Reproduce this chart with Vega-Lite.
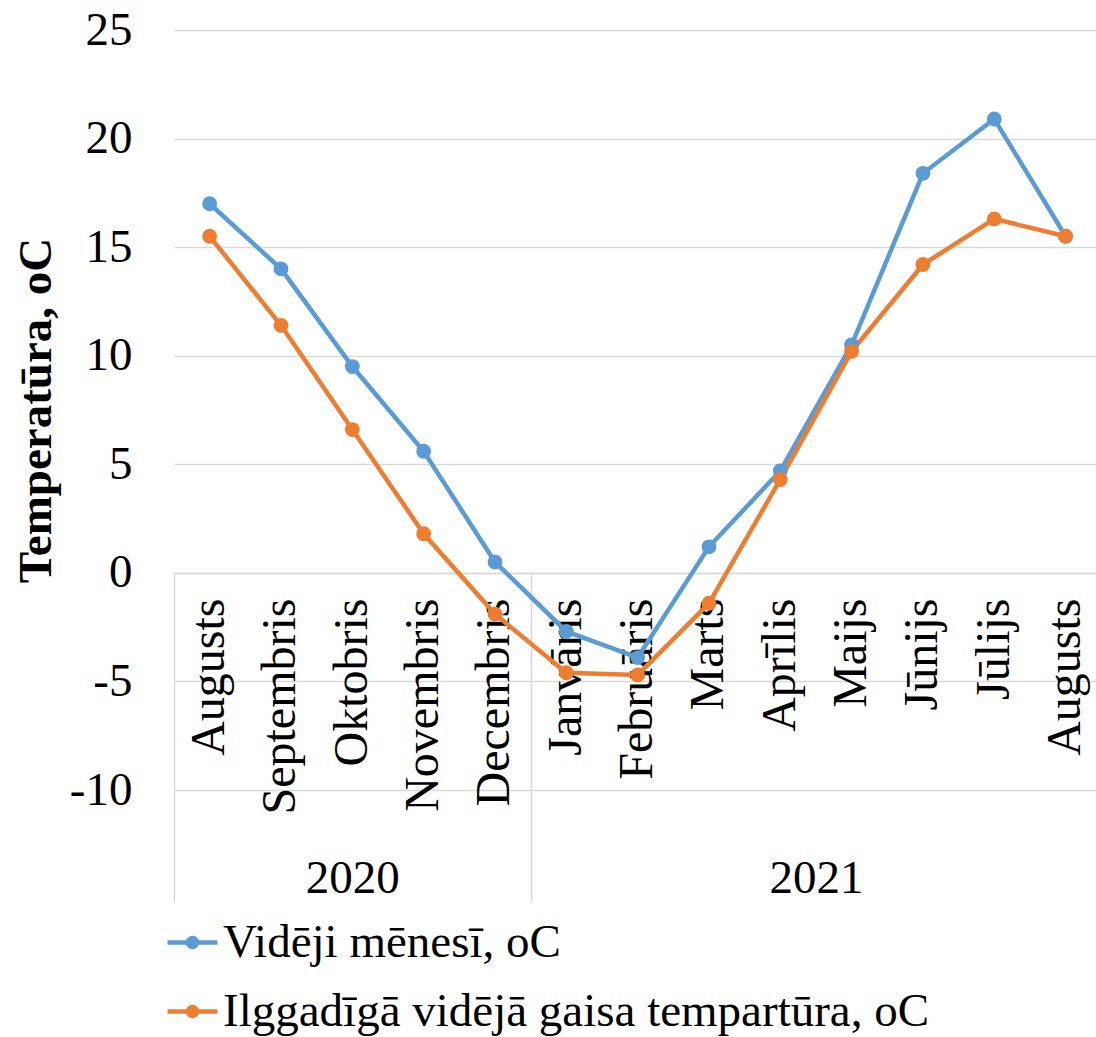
{
  "$schema": "https://vega.github.io/schema/vega-lite/v6.json",
  "autosize": "none",
  "width": 922,
  "height": 760,
  "padding": {"left": 174, "top": 30, "right": 0, "bottom": 247},
  "background": "white",
  "config": {
    "view": {"stroke": null},
    "font": "Liberation Serif",
    "axis": {"labelFont": "Liberation Serif", "titleFont": "Liberation Serif", "labelColor": "black", "titleColor": "black"}
  },
  "data": {
    "values": [
      {"i": 0, "month": "Augusts", "year": 2020, "series": "Vidēji mēnesī, oC", "t": 17.0},
      {"i": 1, "month": "Septembris", "year": 2020, "series": "Vidēji mēnesī, oC", "t": 14.0},
      {"i": 2, "month": "Oktobris", "year": 2020, "series": "Vidēji mēnesī, oC", "t": 9.5},
      {"i": 3, "month": "Novembris", "year": 2020, "series": "Vidēji mēnesī, oC", "t": 5.6},
      {"i": 4, "month": "Decembris", "year": 2020, "series": "Vidēji mēnesī, oC", "t": 0.5},
      {"i": 5, "month": "Janvāris", "year": 2021, "series": "Vidēji mēnesī, oC", "t": -2.7},
      {"i": 6, "month": "Februāris", "year": 2021, "series": "Vidēji mēnesī, oC", "t": -3.9},
      {"i": 7, "month": "Marts", "year": 2021, "series": "Vidēji mēnesī, oC", "t": 1.2},
      {"i": 8, "month": "Aprīlis", "year": 2021, "series": "Vidēji mēnesī, oC", "t": 4.7},
      {"i": 9, "month": "Maijs", "year": 2021, "series": "Vidēji mēnesī, oC", "t": 10.5},
      {"i": 10, "month": "Jūnijs", "year": 2021, "series": "Vidēji mēnesī, oC", "t": 18.4},
      {"i": 11, "month": "Jūlijs", "year": 2021, "series": "Vidēji mēnesī, oC", "t": 20.9},
      {"i": 12, "month": "Augusts", "year": 2021, "series": "Vidēji mēnesī, oC", "t": 15.5},
      {"i": 0, "month": "Augusts", "year": 2020, "series": "Ilggadīgā vidējā gaisa tempartūra, oC", "t": 15.5},
      {"i": 1, "month": "Septembris", "year": 2020, "series": "Ilggadīgā vidējā gaisa tempartūra, oC", "t": 11.4},
      {"i": 2, "month": "Oktobris", "year": 2020, "series": "Ilggadīgā vidējā gaisa tempartūra, oC", "t": 6.6},
      {"i": 3, "month": "Novembris", "year": 2020, "series": "Ilggadīgā vidējā gaisa tempartūra, oC", "t": 1.8},
      {"i": 4, "month": "Decembris", "year": 2020, "series": "Ilggadīgā vidējā gaisa tempartūra, oC", "t": -1.9},
      {"i": 5, "month": "Janvāris", "year": 2021, "series": "Ilggadīgā vidējā gaisa tempartūra, oC", "t": -4.6},
      {"i": 6, "month": "Februāris", "year": 2021, "series": "Ilggadīgā vidējā gaisa tempartūra, oC", "t": -4.7},
      {"i": 7, "month": "Marts", "year": 2021, "series": "Ilggadīgā vidējā gaisa tempartūra, oC", "t": -1.4},
      {"i": 8, "month": "Aprīlis", "year": 2021, "series": "Ilggadīgā vidējā gaisa tempartūra, oC", "t": 4.3},
      {"i": 9, "month": "Maijs", "year": 2021, "series": "Ilggadīgā vidējā gaisa tempartūra, oC", "t": 10.2},
      {"i": 10, "month": "Jūnijs", "year": 2021, "series": "Ilggadīgā vidējā gaisa tempartūra, oC", "t": 14.2},
      {"i": 11, "month": "Jūlijs", "year": 2021, "series": "Ilggadīgā vidējā gaisa tempartūra, oC", "t": 16.3},
      {"i": 12, "month": "Augusts", "year": 2021, "series": "Ilggadīgā vidējā gaisa tempartūra, oC", "t": 15.5}
    ]
  },
  "encoding": {
    "y": {
      "field": "t",
      "type": "quantitative",
      "scale": {"domain": [-10, 25], "nice": false, "zero": false},
      "axis": {
        "values": [-10, -5, 0, 5, 10, 15, 20, 25],
        "labelExpr": "toString(datum.value)",
        "title": "Temperatūra, oC",
        "titleFontSize": 47,
        "titleFontWeight": "bold",
        "titlePadding": 9,
        "labelFontSize": 47,
        "labelPadding": 42,
        "ticks": false,
        "domain": false,
        "grid": true,
        "gridColor": "#d9d9d9",
        "gridWidth": 1.5
      }
    },
    "color": {
      "field": "series",
      "type": "nominal",
      "sort": ["Vidēji mēnesī, oC", "Ilggadīgā vidējā gaisa tempartūra, oC"],
      "scale": {"domain": ["Vidēji mēnesī, oC", "Ilggadīgā vidējā gaisa tempartūra, oC"], "range": ["#5b9bd5", "#ed7d31"]},
      "legend": {
        "title": null,
        "orient": "none",
        "legendX": -9,
        "legendY": 885,
        "direction": "vertical",
        "padding": 0,
        "labelFont": "Liberation Serif",
        "labelFontSize": 47,
        "labelColor": "black",
        "labelOffset": 3,
        "labelLimit": 1000,
        "rowPadding": 18,
        "symbolType": "M-1,0H1M-0.18,0A0.18,0.18 0 1,1 0.18,0A0.18,0.18 0 1,1 -0.18,0Z",
        "symbolSize": 2500,
        "symbolStrokeWidth": 4.5,
        "encode": {"symbols": {"update": {"fill": {"scale": "color", "field": "value"}, "stroke": {"scale": "color", "field": "value"}}}}
      }
    }
  },
  "resolve": {"axis": {"x": "independent"}},
  "layer": [
    {
      "mark": {"type": "line", "strokeWidth": 4.5},
      "encoding": {
        "x": {
          "field": "i",
          "type": "quantitative",
          "scale": {"domain": [-0.5, 12.426], "nice": false, "zero": false},
          "axis": {
            "orient": "bottom",
            "title": null,
            "offset": -217,
            "values": [0, 1, 2, 3, 4, 5, 6, 7, 8, 9, 10, 11, 12],
            "labelExpr": "['Augusts','Septembris','Oktobris','Novembris','Decembris','Janvāris','Februāris','Marts','Aprīlis','Maijs','Jūnijs','Jūlijs','Augusts'][datum.value]",
            "labelAngle": -90,
            "labelAlign": "right",
            "labelBaseline": "middle",
            "labelFontSize": 48,
            "labelPadding": -304,
            "labelLimit": 1000,
            "labelOverlap": false,
            "labelBound": false,
            "labelFlush": false,
            "labelOffset": 35.67,
            "grid": false,
            "domain": true,
            "domainColor": "#d9d9d9",
            "domainWidth": 1.5,
            "ticks": true,
            "tickOffset": -35.67,
            "tickSize": 329,
            "tickColor": "#d9d9d9",
            "tickWidth": 1.5,
            "tickOpacity": {"condition": {"test": "datum.value == 0 || datum.value == 5", "value": 1}, "value": 0}
          }
        }
      }
    },
    {
      "mark": {"type": "point", "filled": true, "size": 220, "opacity": 1},
      "encoding": {
        "x": {
          "field": "i",
          "type": "quantitative",
          "axis": {
            "orient": "bottom",
            "title": null,
            "offset": -217,
            "values": [2, 8.5],
            "labelExpr": "datum.value < 5 ? '2020' : '2021'",
            "labelAngle": 0,
            "labelAlign": "center",
            "labelBaseline": "alphabetic",
            "labelFontSize": 47,
            "labelPadding": 319,
            "labelOverlap": false,
            "labelFlush": false,
            "grid": false,
            "domain": false,
            "ticks": false,
            "tickSize": 0
          }
        }
      }
    }
  ]
}
